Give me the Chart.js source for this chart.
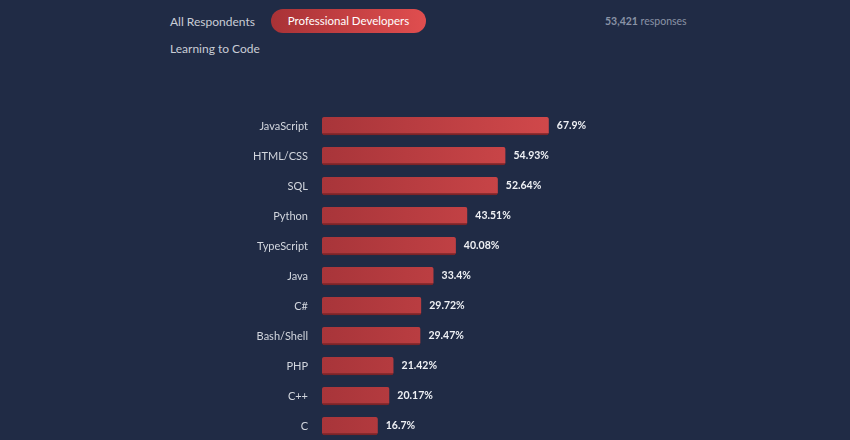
<!DOCTYPE html>
<html>
<head>
<meta charset="utf-8">
<script src="https://cdn.jsdelivr.net/npm/chart.js@4"></script>
<style>
  html, body { margin: 0; padding: 0; width: 850px; height: 440px; overflow: hidden; background: #202b45; font-family: Lato, sans-serif; }
  .tab { position: absolute; color: #c9cdd6; font-size: 12px; }
  .pill { position: absolute; left: 271px; top: 9px; width: 155px; height: 24px; line-height: 24px; border-radius: 12px;
          background: linear-gradient(90deg, #a83236, #e04e4f); color: #fff; font-size: 11.5px; text-align: center; }
  .resp { position: absolute; left: 605px; top: 15px; color: #8a93a6; font-size: 10.5px; }
  .resp b { font-weight: 700; }
  #chart { position: absolute; left: 0; top: 0; }
</style>
</head>
<body>
<div class="tab" style="left:170px; top:14px;">All Respondents</div>
<div class="pill">Professional Developers</div>
<div class="tab" style="left:170px; top:41px;">Learning to Code</div>
<div class="resp"><b>53,421</b> responses</div>
<canvas id="chart" width="850" height="450"></canvas>
<script>
const languages = ['JavaScript', 'HTML/CSS', 'SQL', 'Python', 'TypeScript', 'Java', 'C#', 'Bash/Shell', 'PHP', 'C++', 'C'];
const shares = [67.9, 54.93, 52.64, 43.51, 40.08, 33.4, 29.72, 29.47, 21.42, 20.17, 16.7];

// value text to the right of each bar
const valueLabels = {
  id: 'valueLabels',
  afterDatasetsDraw(chart) {
    const ctx = chart.ctx;
    const meta = chart.getDatasetMeta(0);
    ctx.save();
    ctx.font = 'bold 10.5px Lato, sans-serif';
    ctx.fillStyle = '#eef0f4';
    ctx.textAlign = 'left';
    ctx.textBaseline = 'middle';
    meta.data.forEach((bar, i) => {
      ctx.fillText(shares[i] + '%', bar.x + 8, bar.y);
    });
    ctx.restore();
  }
};

function barGradient(context) {
  const chart = context.chart;
  const area = chart.chartArea;
  if (!area) return '#c84042';
  const el = context.element;
  const x0 = area.left;
  const x1 = el && el.x ? el.x : area.right;
  const g = chart.ctx.createLinearGradient(x0, 0, Math.max(x1, x0 + 1), 0);
  g.addColorStop(0, '#a8353a');
  g.addColorStop(1, '#e35152');
  return g;
}

new Chart(document.getElementById('chart'), {
  type: 'bar',
  data: {
    labels: languages,
    datasets: [{
      data: shares,
      backgroundColor: barGradient,
      borderColor: '#7c2428',
      borderWidth: { top: 0, left: 0, right: 0, bottom: 2 },
      borderSkipped: false,
      borderRadius: 2,
      barThickness: 18
    }]
  },
  options: {
    indexAxis: 'y',
    responsive: false,
    animation: false,
    layout: { padding: { top: 111, bottom: 9, left: 0, right: 194 } },
    scales: {
      x: { display: false, min: 0, max: 100 },
      y: {
        grid: { display: false, drawTicks: false },
        border: { display: false },
        ticks: { color: '#d2d6de', font: { family: 'Lato', size: 11 }, padding: 14 },
        afterFit(scale) {
          scale.width = 322;
          scale.paddingTop = 0;
          scale.paddingBottom = 0;
        }
      }
    },
    plugins: {
      legend: { display: false },
      tooltip: { enabled: false }
    }
  },
  plugins: [valueLabels]
});
</script>
</body>
</html>
